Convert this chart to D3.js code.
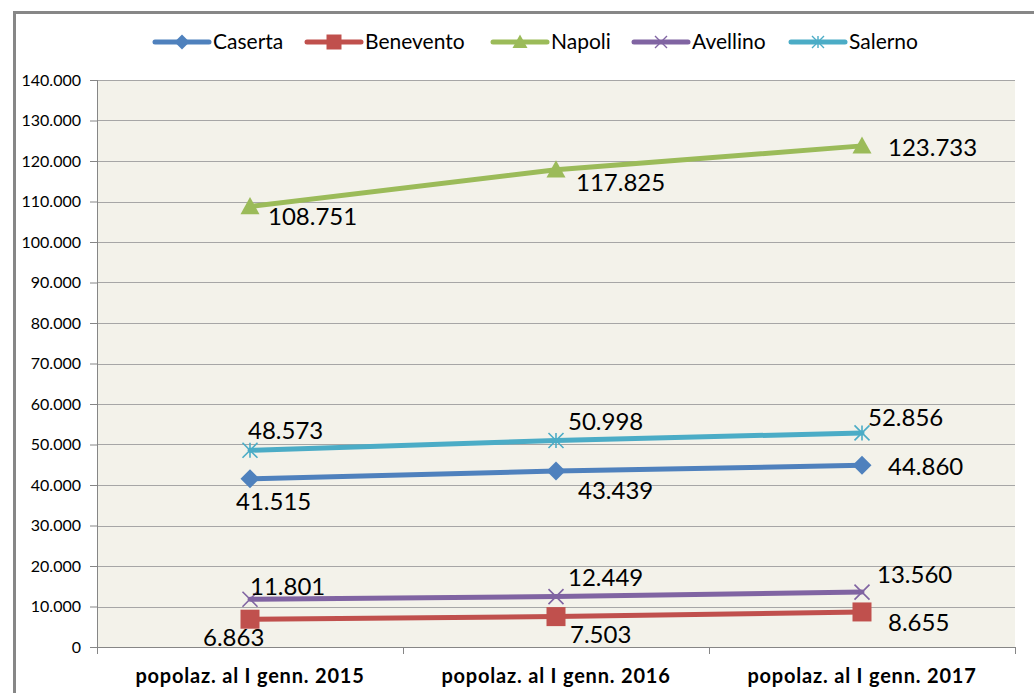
<!DOCTYPE html>
<html>
<head>
<meta charset="utf-8">
<script src="https://cdn.jsdelivr.net/npm/d3@7"></script>
<style>
  body { margin: 0; background: #fff; }
  svg { display: block; font-family: Lato, "Open Sans", sans-serif; }
</style>
</head>
<body>
<svg id="chart" width="1034" height="693"></svg>
<script>
// Data
var categories = ["popolaz. al I genn. 2015", "popolaz. al I genn. 2016", "popolaz. al I genn. 2017"];
var seriesNames = ["Caserta", "Benevento", "Napoli", "Avellino", "Salerno"];
var caserta   = [41515, 43439, 44860];
var benevento = [6863, 7503, 8655];
var napoli    = [108751, 117825, 123733];
var avellino  = [11801, 12449, 13560];
var salerno   = [48573, 50998, 52856];
var yTicks = [0, 10000, 20000, 30000, 40000, 50000, 60000, 70000, 80000, 90000, 100000, 110000, 120000, 130000, 140000];

// Style
var colors  = ["#4F81BD", "#C0504D", "#9BBB59", "#8064A2", "#4BACC6"];
var markers = ["diamond", "square", "triangle", "x", "star"];
// label offsets relative to the point (dx of text start, dy of text middle)
var labelOffsets = [
  [[-14, 22], [22, 19], [26, 1]],
  [[-47, 18], [14, 18], [26, 10]],
  [[18, 10], [20, 13], [26, 1]],
  [[0, -13], [12, -19], [15, -18]],
  [[-2, -20], [12, -19], [6, -16]]
];

var values = [caserta, benevento, napoli, avellino, salerno];

var svg = d3.select("#chart"),
    margin = {left: 97, top: 80},
    plotW = 1015 - margin.left,
    plotH = 647 - margin.top;

var fmt = function(v) { return d3.format(",")(v).replace(/,/g, "."); };

// outer chart border
svg.append("rect")
    .attr("x", 14.5).attr("y", 12.5)
    .attr("width", 1040).attr("height", 700)
    .attr("fill", "#fff")
    .attr("stroke", "#878787")
    .attr("stroke-width", 3);

var x = d3.scalePoint().domain(categories).range([0, plotW]).padding(0.5);
var xBand = d3.scaleBand().domain(categories).range([0, plotW]);
var y = d3.scaleLinear().domain([0, 140000]).range([plotH, 0]);

var g = svg.append("g").attr("transform", "translate(" + margin.left + "," + margin.top + ")");

g.append("rect")
    .attr("width", plotW).attr("height", plotH)
    .attr("fill", "#F3F2EA");

// gridlines
g.append("g")
  .selectAll("line")
  .data(yTicks)
  .join("line")
    .attr("x1", 0).attr("x2", plotW)
    .attr("y1", function(d) { return Math.round(y(d)) + 0.5; })
    .attr("y2", function(d) { return Math.round(y(d)) + 0.5; })
    .attr("stroke", "#A6A6A6");

// y axis
var yAxis = g.append("g")
    .call(d3.axisLeft(y).tickValues(yTicks).tickSize(7).tickPadding(9).tickFormat(fmt));
yAxis.selectAll("text").attr("font-size", 16).attr("fill", "#000").attr("font-family", "Lato, sans-serif");
yAxis.selectAll("line").attr("stroke", "#868686");
yAxis.select(".domain").attr("stroke", "#868686").attr("d", "M0.5,0V" + plotH);

// x axis
var xAxis = g.append("g").attr("transform", "translate(0," + plotH + ")");
xAxis.append("line").attr("x1", 0).attr("x2", plotW).attr("y1", 0.5).attr("y2", 0.5).attr("stroke", "#868686");
var bounds = categories.map(function(c) { return xBand(c); }).concat([plotW]);
xAxis.selectAll("line.tk")
  .data(bounds)
  .join("line")
    .attr("class", "tk")
    .attr("x1", function(d) { return Math.round(d) + 0.5; })
    .attr("x2", function(d) { return Math.round(d) + 0.5; })
    .attr("y1", 0).attr("y2", 7)
    .attr("stroke", "#868686");
xAxis.selectAll("text")
  .data(categories)
  .join("text")
    .attr("x", function(d) { return x(d); })
    .attr("y", 36)
    .attr("text-anchor", "middle")
    .attr("font-size", 20)
    .attr("letter-spacing", 0.8)
    .attr("font-weight", "bold")
    .text(function(d) { return d; });

function markerPath(type, s) {
  var h = s / 2;
  if (type === "diamond") return "M0," + (-h) + "L" + h + ",0L0," + h + "L" + (-h) + ",0Z";
  if (type === "square") return "M" + (-h) + "," + (-h) + "h" + s + "v" + s + "h" + (-s) + "Z";
  if (type === "triangle") return "M0," + (-h) + "L" + h + "," + (h * 0.8) + "L" + (-h) + "," + (h * 0.8) + "Z";
  if (type === "x") return "M" + (-h) + "," + (-h) + "L" + h + "," + h + "M" + h + "," + (-h) + "L" + (-h) + "," + h;
  return "M" + (-h) + "," + (-h) + "L" + h + "," + h + "M" + h + "," + (-h) + "L" + (-h) + "," + h + "M0," + (-h) + "V" + h;
}

var line = d3.line()
    .x(function(d, i) { return x(categories[i]); })
    .y(function(d) { return y(d); });

seriesNames.forEach(function(name, s) {
  var sg = g.append("g");
  sg.append("path")
      .attr("d", line(values[s]))
      .attr("fill", "none")
      .attr("stroke", colors[s])
      .attr("stroke-width", 5)
      .attr("stroke-linecap", "round");

  sg.selectAll("path.mk")
    .data(values[s])
    .join("path")
      .attr("class", "mk")
      .attr("transform", function(d, i) { return "translate(" + x(categories[i]) + "," + y(d) + ")"; })
      .attr("d", markerPath(markers[s], markers[s] === "x" || markers[s] === "star" ? 15 : 19))
      .attr("fill", markers[s] === "x" || markers[s] === "star" ? "none" : colors[s])
      .attr("stroke", colors[s])
      .attr("stroke-width", markers[s] === "x" || markers[s] === "star" ? 1.6 : 0);

  sg.selectAll("text")
    .data(values[s])
    .join("text")
      .attr("x", function(d, i) { return x(categories[i]) + labelOffsets[s][i][0]; })
      .attr("y", function(d, i) { return y(d) + labelOffsets[s][i][1]; })
      .attr("dy", "0.36em")
      .attr("font-size", 24)
      .attr("fill", "#000")
      .text(fmt);
});

// legend
var legendX = [155, 307, 493, 634, 791];
var legend = svg.append("g").attr("transform", "translate(0,42)");
seriesNames.forEach(function(name, s) {
  var lg = legend.append("g").attr("transform", "translate(" + legendX[s] + ",0)");
  lg.append("line")
      .attr("x1", 0).attr("x2", 54)
      .attr("stroke", colors[s]).attr("stroke-width", 5).attr("stroke-linecap", "round");
  lg.append("path")
      .attr("transform", "translate(27,0)")
      .attr("d", markerPath(markers[s], markers[s] === "x" || markers[s] === "star" ? 12 : 15))
      .attr("fill", markers[s] === "x" || markers[s] === "star" ? "none" : colors[s])
      .attr("stroke", colors[s])
      .attr("stroke-width", markers[s] === "x" || markers[s] === "star" ? 1.4 : 0);
  lg.append("text")
      .attr("x", 58).attr("dy", "0.35em")
      .attr("font-size", 21)
      .text(name);
});
</script>
</body>
</html>
